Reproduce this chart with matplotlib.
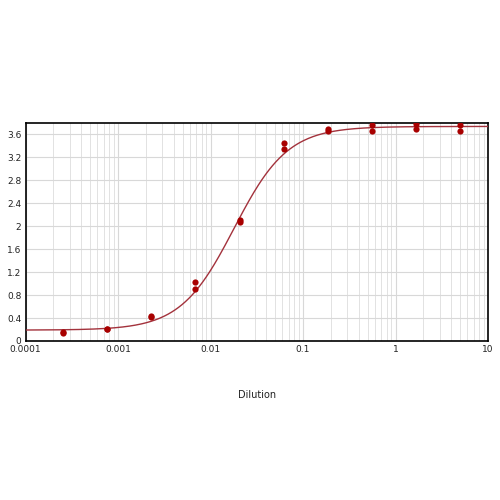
import numpy as np
import matplotlib
matplotlib.use("Agg")
import matplotlib.pyplot as plt
from matplotlib.ticker import LogLocator, FixedLocator, NullFormatter

# Data (3-fold dilutions, duplicate readings)
dilution = [0.000254, 0.000762, 0.00229, 0.00686, 0.0206, 0.0617, 0.185, 0.556, 1.667, 5.0]
rep1 = [0.15, 0.21, 0.43, 1.03, 2.11, 3.46, 3.69, 3.76, 3.78, 3.76]
rep2 = [0.14, 0.21, 0.42, 0.90, 2.07, 3.35, 3.66, 3.66, 3.69, 3.66]

# 4-parameter logistic fit parameters
fit_bottom = 0.19
fit_top = 3.74
fit_ec50 = 0.018
fit_hill = 1.5

x_ticks = [0.0001, 0.001, 0.01, 0.1, 1, 10]
x_tick_labels = ["0.0001", "0.001", "0.01", "0.1", "1", "10"]
y_ticks = [0, 0.4, 0.8, 1.2, 1.6, 2, 2.4, 2.8, 3.2, 3.6]
y_tick_labels = ["0", "0.4", "0.8", "1.2", "1.6", "2", "2.4", "2.8", "3.2", "3.6"]

fig = plt.figure(figsize=(5, 5), dpi=100)
ax = fig.add_axes([0.051, 0.318, 0.925, 0.436])

xs = np.logspace(-4, 1, 400)
ys = fit_bottom + (fit_top - fit_bottom) / (1 + (fit_ec50 / xs) ** fit_hill)
ax.plot(xs, ys, color="#a3323c", lw=1.0, zorder=3)

ax.scatter(dilution, rep1, s=20, color="#a80000", zorder=4, linewidths=0)
ax.scatter(dilution, rep2, s=20, color="#a80000", zorder=4, linewidths=0)

ax.set_xscale("log")
ax.set_xlim(0.0001, 10)
ax.set_ylim(0, 3.8)
ax.xaxis.set_major_locator(FixedLocator(x_ticks))
ax.set_xticklabels(x_tick_labels)
ax.xaxis.set_minor_locator(LogLocator(base=10, subs=np.arange(2, 10)))
ax.xaxis.set_minor_formatter(NullFormatter())
ax.set_yticks(y_ticks)
ax.set_yticklabels(y_tick_labels)

ax.grid(True, which="major", color="#d8d8d8", lw=0.8)
ax.grid(True, which="minor", axis="x", color="#e2e2e2", lw=0.7)
ax.set_axisbelow(True)

ax.tick_params(which="both", length=0, labelsize=6.5, pad=3, colors="#222222")
for s in ax.spines.values():
    s.set_color("black")
    s.set_linewidth(1.2)

ax.set_xlabel("Dilution", fontsize=7, labelpad=26, color="#222222")

fig.savefig("out.png", dpi=100, facecolor="white")
